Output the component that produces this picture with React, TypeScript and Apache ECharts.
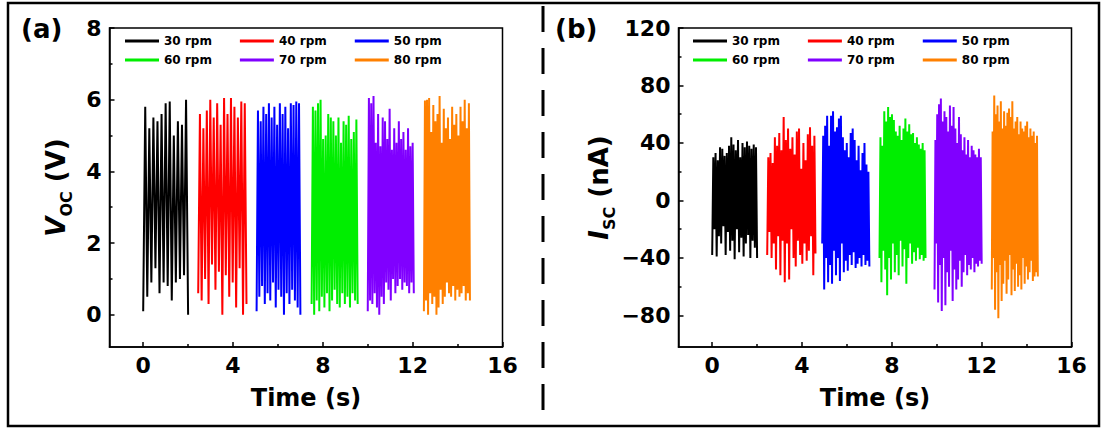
import React, { useEffect, useRef } from "react";
import * as echarts from "echarts";

// ---------- data ----------
const SERIES_NAMES = ["30 rpm", "40 rpm", "50 rpm", "60 rpm", "70 rpm", "80 rpm"];
const COLORS = ["#000000", "#FF0000", "#0000FF", "#00EE00", "#8000FF", "#FF8000"];

// time windows (s) of each rotation-speed burst
const VOC_T_START = [0, 2.45, 5.05, 7.5, 10.0, 12.5];
const VOC_T_END = [2.0, 4.6, 7.0, 9.55, 12.05, 14.55];
const ISC_T_START = [0, 2.45, 4.9, 7.45, 9.9, 12.45];
const ISC_T_END = [2.0, 4.6, 7.0, 9.5, 12.0, 14.5];

// open-circuit voltage samples (V)
const VOC_30 = [0.1, 5.8, 0.5, 5.2, 0.9, 5.5, 1.3, 5.4, 0.6, 5.6, 0.9, 5.9, 0.8, 5.95, 0.4, 5.0, 0.9, 5.4, 1.0, 5.3, 1.1, 6.0, 0.0];
const VOC_40 = [0.6, 5.6, 0.4, 5.2, 1.0, 5.7, 0.3, 6.0, 1.4, 5.5, 0.7, 5.9, 1.2, 5.3, 0.0, 6.05, 1.1, 5.6, 0.5, 6.05, 0.9, 5.8, 0.2, 5.5, 1.3, 5.95, 0.0, 5.9, 0.3];
const VOC_50 = [0.1, 5.7, 0.5, 5.4, 0.8, 5.8, 0.3, 5.6, 0.6, 5.9, 0.4, 5.5, 0.9, 5.8, 0.2, 5.3, 0.7, 5.9, 0.5, 5.6, 0.0, 5.8, 0.6, 5.2, 0.3, 5.9, 0.7, 5.85, 0.4, 5.95, 0.2, 5.9, 0.0];
const VOC_60 = [0.3, 5.8, 0.0, 5.7, 0.4, 5.9, 0.1, 6.0, 0.5, 4.9, 0.2, 5.0, 0.6, 5.6, 0.1, 5.5, 0.4, 5.4, 0.7, 5.0, 0.3, 5.5, 0.2, 4.8, 0.6, 5.4, 0.3, 5.3, 0.5, 5.55, 0.2, 4.9, 0.6, 5.1, 0.4, 5.45, 0.3];
const VOC_70 = [0.1, 6.05, 0.4, 5.9, 0.3, 6.1, 0.6, 4.8, 0.2, 5.6, 0.0, 4.7, 0.5, 5.5, 0.3, 5.4, 0.9, 4.9, 0.7, 5.75, 0.4, 4.6, 1.0, 5.2, 0.6, 4.8, 0.8, 5.4, 1.0, 4.9, 0.7, 5.1, 0.9, 4.6, 0.8, 5.2, 0.6, 4.7, 0.9, 4.8, 0.6];
const VOC_80 = [0.1, 5.98, 0.4, 6.0, 0.0, 6.05, 0.6, 5.1, 0.3, 5.85, 0.5, 5.4, 0.0, 5.6, 0.2, 6.1, 0.7, 4.8, 0.3, 5.75, 0.5, 5.2, 0.9, 5.5, 0.6, 4.9, 0.5, 5.8, 0.8, 5.3, 0.4, 5.6, 0.7, 5.0, 0.5, 5.8, 0.6, 5.4, 0.8, 6.0, 0.4, 5.2, 0.6, 5.9, 0.4];

// short-circuit current samples (nA)
const ISC_30 = [-38, 30, -20, 33, -39, 28, -25, 37, -30, 36, -18, 31, -38, 33, -22, 38, -35, 44, -28, 39, -41, 35, -20, 42, -36, 30, -26, 40, -39, 37, -30, 41, -24, 38, -40, 36, -28, 39, -33, 37, -40];
const ISC_40 = [-38, 30, -22, 33, -40, 26, -30, 44, -48, 38, -25, 47, -52, 35, -28, 58, -57, 42, -30, 50, -55, 36, -20, 44, -40, 32, -46, 48, -28, 50, -38, 22, -44, 40, -30, 28, -42, 46, -35, 51, -25, 38, -52, 45, -37];
const ISC_50 = [-30, 45, -62, 52, -40, 59, -57, 38, -45, 59, -58, 62, -35, 48, -52, 51, -40, 57, -56, 59, -30, 44, -50, 35, -42, 40, -49, 30, -38, 47, -45, 50, -36, 42, -47, 28, -44, 38, -40, 21, -46, 33, -38, 40, -45, 25, -42, 20, -46];
const ISC_60 = [-40, 44, -57, 38, -35, 62, -48, 55, -66, 65, -40, 58, -55, 60, -30, 56, -50, 48, -38, 45, -52, 52, -28, 42, -46, 50, -34, 57, -58, 48, -40, 53, -30, 46, -44, 47, -36, 40, -42, 44, -33, 39, -41, 36, -38, 40, -42, 35, -40];
const ISC_70 = [-62, 42, -30, 60, -71, 67, -45, 71, -77, 55, -40, 62, -73, 58, -50, 48, -60, 66, -35, 52, -70, 65, -48, 50, -62, 40, -55, 58, -42, 46, -60, 35, -50, 44, -38, 32, -52, 42, -45, 30, -48, 38, -40, 35, -50, 32, -44, 30, -46, 36, -42, 30, -44];
const ISC_80 = [-62, 48, -40, 73, -76, 60, -50, 66, -82, 55, -45, 69, -70, 50, -58, 62, -42, 52, -65, 61, -55, 64, -38, 58, -66, 69, -48, 50, -63, 55, -44, 58, -60, 46, -52, 55, -62, 50, -40, 48, -58, 52, -46, 55, -55, 44, -50, 50, -42, 45, -56, 48, -53, 40, -50, 45, -53];

const VOC_DATA = [VOC_30, VOC_40, VOC_50, VOC_60, VOC_70, VOC_80];
const ISC_DATA = [ISC_30, ISC_40, ISC_50, ISC_60, ISC_70, ISC_80];

// axes
const X_MIN = -1.5;
const X_MAX = 16;
const X_MAJOR = [0, 4, 8, 12, 16];
const X_MINOR = [2, 6, 10, 14];
const VOC_MIN = -0.9;
const VOC_MAX = 8;
const VOC_MAJOR = [0, 2, 4, 6, 8];
const VOC_MINOR = [1, 3, 5, 7];
const ISC_MIN = -102;
const ISC_MAX = 120;
const ISC_MAJOR = [-80, -40, 0, 40, 80, 120];
const ISC_MINOR = [-60, -20, 20, 60, 100];

const FONT = "DejaVu Sans";

function toPoints(values: number[], t0: number, t1: number) {
  const n = values.length;
  return values.map((v, i) => [t0 + (i * (t1 - t0)) / (n - 1), v]);
}

const fmt = (v: number) => String(v).replace("-", "\u2212");

function mainAxis(
  kind: "x" | "y",
  gridIndex: number,
  min: number,
  max: number,
  major: number[],
  name: string,
  nameGap: number,
  rich?: any
) {
  return {
    type: "value",
    gridIndex,
    min,
    max,
    position: kind === "x" ? "bottom" : "left",
    name,
    nameLocation: "middle",
    nameGap,
    nameTextStyle: {
      fontFamily: FONT,
      fontWeight: "bold",
      fontSize: 24,
      color: "#000",
      rich,
    },
    axisLine: { show: true, onZero: false, lineStyle: { color: "#000", width: 1.5 } },
    axisTick: {
      show: true,
      inside: true,
      length: 5,
      customValues: major,
      lineStyle: { color: "#000", width: 1.5 },
    },
    axisLabel: {
      show: true,
      customValues: major,
      margin: kind === "x" ? 7 : 8,
      fontFamily: FONT,
      fontWeight: "bold",
      fontSize: 22,
      color: "#000",
      formatter: fmt,
    },
    splitLine: { show: false },
  };
}

function minorAxis(kind: "x" | "y", gridIndex: number, min: number, max: number, minor: number[]) {
  return {
    type: "value",
    gridIndex,
    min,
    max,
    position: kind === "x" ? "bottom" : "left",
    axisLine: { show: false, onZero: false },
    axisTick: {
      show: true,
      inside: true,
      length: 3,
      customValues: minor,
      lineStyle: { color: "#000", width: 1.5 },
    },
    axisLabel: { show: false },
    splitLine: { show: false },
  };
}

function legendRow(left: number, top: number, names: string[]) {
  return {
    left,
    top,
    orient: "horizontal",
    padding: 0,
    itemGap: 28,
    itemWidth: 34,
    itemHeight: 3,
    icon: "rect",
    data: names,
    textStyle: { fontFamily: FONT, fontWeight: "bold", fontSize: 12, color: "#000" },
  };
}

const richY = () => ({
  v: { fontFamily: FONT, fontWeight: "bold", fontStyle: "italic", fontSize: 26, color: "#000", verticalAlign: "top", lineHeight: 26 },
  s: { fontFamily: FONT, fontWeight: "bold", fontSize: 16, color: "#000", verticalAlign: "top", lineHeight: 16, padding: [16, 0, 0, 0] },
  t: { fontFamily: FONT, fontWeight: "bold", fontSize: 26, color: "#000", verticalAlign: "top", lineHeight: 26 },
});

export default function App() {
  const ref = useRef<HTMLDivElement>(null);

  useEffect(() => {
    if (!ref.current) return;
    const chart = echarts.init(ref.current, null, { renderer: "svg" });

    const series: any[] = [];
    SERIES_NAMES.forEach((name, k) => {
      series.push({
        name,
        type: "line",
        xAxisIndex: 0,
        yAxisIndex: 0,
        showSymbol: false,
        symbol: "none",
        lineStyle: { color: COLORS[k], width: 2 },
        itemStyle: { color: COLORS[k] },
        data: toPoints(VOC_DATA[k], VOC_T_START[k], VOC_T_END[k]),
      });
    });
    SERIES_NAMES.forEach((name, k) => {
      series.push({
        name,
        type: "line",
        xAxisIndex: 2,
        yAxisIndex: 2,
        showSymbol: false,
        symbol: "none",
        lineStyle: { color: COLORS[k], width: 2 },
        itemStyle: { color: COLORS[k] },
        data: toPoints(ISC_DATA[k], ISC_T_START[k], ISC_T_END[k]),
      });
    });

    const option: any = {
      animation: false,
      backgroundColor: "#fff",
      grid: [
        { left: 109.5, top: 28, width: 393, height: 319, show: true, borderColor: "#000", borderWidth: 1.5, backgroundColor: "transparent" },
        { left: 678.5, top: 28, width: 393, height: 319, show: true, borderColor: "#000", borderWidth: 1.5, backgroundColor: "transparent" },
      ],
      xAxis: [
        mainAxis("x", 0, X_MIN, X_MAX, X_MAJOR, "Time (s)", 39),
        minorAxis("x", 0, X_MIN, X_MAX, X_MINOR),
        mainAxis("x", 1, X_MIN, X_MAX, X_MAJOR, "Time (s)", 39),
        minorAxis("x", 1, X_MIN, X_MAX, X_MINOR),
      ],
      yAxis: [
        mainAxis("y", 0, VOC_MIN, VOC_MAX, VOC_MAJOR, "{v|V}{s|OC}{t| (V)}", 41, richY()),
        minorAxis("y", 0, VOC_MIN, VOC_MAX, VOC_MINOR),
        mainAxis("y", 1, ISC_MIN, ISC_MAX, ISC_MAJOR, "{v|I}{s|SC}{t| (nA)}", 38, richY()),
        minorAxis("y", 1, ISC_MIN, ISC_MAX, ISC_MINOR),
      ],
      legend: [
        legendRow(125, 35, SERIES_NAMES.slice(0, 3)),
        legendRow(125, 54, SERIES_NAMES.slice(3, 6)),
        legendRow(693, 35, SERIES_NAMES.slice(0, 3)),
        legendRow(693, 54, SERIES_NAMES.slice(3, 6)),
      ],
      graphic: [
        {
          type: "rect",
          shape: { x: 8, y: 3, width: 1091, height: 423 },
          style: { fill: "none", stroke: "#000", lineWidth: 2.5 },
          silent: true,
        },
        {
          type: "line",
          shape: { x1: 543, y1: 6, x2: 543, y2: 424 },
          style: { stroke: "#000", lineWidth: 3, lineDash: [26, 16] },
          silent: true,
        },
        {
          type: "text",
          left: 21,
          top: 16,
          style: { text: "(a)", fontFamily: FONT, fontWeight: "bold", fontSize: 26, fill: "#000" },
        },
        {
          type: "text",
          left: 555,
          top: 16,
          style: { text: "(b)", fontFamily: FONT, fontWeight: "bold", fontSize: 26, fill: "#000" },
        },
      ],
      series,
    };

    chart.setOption(option);
    return () => chart.dispose();
  }, []);

  return (
    <div
      ref={ref}
      style={{ position: "fixed", left: 0, top: 0, width: 1105, height: 429, background: "#fff" }}
    />
  );
}
